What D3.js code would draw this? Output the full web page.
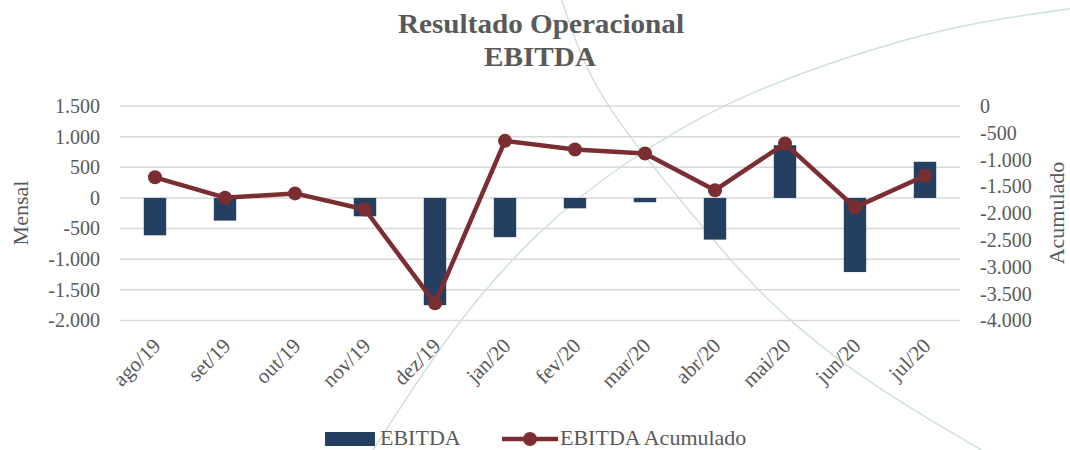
<!DOCTYPE html>
<html>
<head>
<meta charset="utf-8">
<script src="https://cdn.jsdelivr.net/npm/d3@7"></script>
<style>
  body { margin: 0; background: #fff; }
  text { font-family: "Liberation Serif", "DejaVu Serif", serif; fill: #595959; }
</style>
</head>
<body>
<div id="chart"></div>
<script>
// Chart data
const months = ["ago/19", "set/19", "out/19", "nov/19", "dez/19", "jan/20",
                "fev/20", "mar/20", "abr/20", "mai/20", "jun/20", "jul/20"];
const ebitda = [-610, -370, 0, -300, -1750, -640, -170, -70, -680, 860, -1210, 590];
const ebitdaAcum = [-1330, -1710, -1630, -1930, -3680, -650, -810, -885, -1570, -700, -1890, -1300];
const leftTicks = [1500, 1000, 500, 0, -500, -1000, -1500, -2000];
const rightTicks = [0, -500, -1000, -1500, -2000, -2500, -3000, -3500, -4000];

const width = 1070;
const height = 450;
const margin = { top: 106, right: 110, bottom: 130, left: 120 };

const svg = d3.select("#chart")
    .append("svg")
    .attr("width", width)
    .attr("height", height);

// faint decorative curves in the background
const deco = d3.line().curve(d3.curveBasis);
svg.append("path")
    .attr("d", deco([[560, -5], [585, 70], [620, 125], [680, 200], [740, 272], [790, 322], [870, 385], [990, 455]]))
    .attr("fill", "none").attr("stroke", "#cfe0e0").attr("stroke-width", 1.5);
svg.append("path")
    .attr("d", deco([[1075, 8], [960, 24], [850, 55], [723, 102], [620, 165], [540, 228], [455, 322], [370, 455]]))
    .attr("fill", "none").attr("stroke", "#cfe0e0").attr("stroke-width", 1.5);

const x = d3.scaleBand()
    .domain(months)
    .range([margin.left, width - margin.right])
    .paddingInner(0.68)
    .paddingOuter(0.34);

const yL = d3.scaleLinear().domain([-2000, 1500]).range([height - margin.bottom + 0.5, margin.top]);
const yR = d3.scaleLinear().domain([-4000, 0]).range([height - margin.bottom + 0.5, margin.top]);

// gridlines
svg.append("g")
    .selectAll("line")
    .data(leftTicks)
    .join("line")
    .attr("x1", margin.left)
    .attr("x2", width - margin.right)
    .attr("y1", d => yL(d))
    .attr("y2", d => yL(d))
    .attr("stroke", "#d9d9d9")
    .attr("stroke-width", 1.5);

const fmt = d => d3.format(",")(d).replace(/,/g, ".").replace("−", "-");

// left axis
const axL = svg.append("g")
    .attr("transform", `translate(${margin.left - 20},0)`)
    .call(d3.axisLeft(yL).tickValues(leftTicks).tickFormat(fmt).tickSize(0).tickPadding(0));
axL.select(".domain").remove();
axL.selectAll("text").style("font-size", "20px").attr("fill", "#595959");

// right axis
const axR = svg.append("g")
    .attr("transform", `translate(${width - margin.right + 20},0)`)
    .call(d3.axisRight(yR).tickValues(rightTicks).tickFormat(fmt).tickSize(0).tickPadding(0));
axR.select(".domain").remove();
axR.selectAll("text").style("font-size", "20px").attr("fill", "#595959");

// x axis labels
const axX = svg.append("g")
    .attr("transform", `translate(0,${height - margin.bottom})`)
    .call(d3.axisBottom(x).tickSize(0).tickPadding(0));
axX.select(".domain").remove();
axX.selectAll("text")
    .style("font-size", "21px")
    .attr("fill", "#595959")
    .attr("text-anchor", "end")
    .attr("dy", 0)
    .attr("transform", "translate(7,27) rotate(-45)");

// bars
svg.append("g")
    .selectAll("rect")
    .data(ebitda)
    .join("rect")
    .attr("x", (d, i) => x(months[i]))
    .attr("width", x.bandwidth())
    .attr("y", d => yL(Math.max(0, d)))
    .attr("height", d => Math.abs(yL(d) - yL(0)))
    .attr("fill", "#243f60");

// accumulated line
const cx = i => x(months[i]) + x.bandwidth() / 2;
svg.append("path")
    .datum(ebitdaAcum)
    .attr("d", d3.line().x((d, i) => cx(i)).y(d => yR(d)))
    .attr("fill", "none")
    .attr("stroke", "#7b2e31")
    .attr("stroke-width", 4.5)
    .attr("stroke-linejoin", "round");

svg.append("g")
    .selectAll("circle")
    .data(ebitdaAcum)
    .join("circle")
    .attr("cx", (d, i) => cx(i))
    .attr("cy", d => yR(d))
    .attr("r", 7)
    .attr("fill", "#7b2e31");

// title
const title = svg.append("text")
    .attr("text-anchor", "middle")
    .style("font-weight", "bold")
    .style("font-size", "27px");
title.append("tspan").attr("x", 541).attr("y", 33)
    .attr("textLength", 286).attr("lengthAdjust", "spacingAndGlyphs")
    .text("Resultado Operacional");
title.append("tspan").attr("x", 540).attr("y", 66)
    .attr("textLength", 112).attr("lengthAdjust", "spacingAndGlyphs")
    .text("EBITDA");

// axis titles
svg.append("text")
    .attr("transform", "translate(28,213) rotate(-90)")
    .attr("text-anchor", "middle")
    .style("font-size", "22px")
    .text("Mensal");
svg.append("text")
    .attr("transform", "translate(1064,213) rotate(-90)")
    .attr("text-anchor", "middle")
    .style("font-size", "22px")
    .text("Acumulado");

// legend
const leg = svg.append("g");
leg.append("rect").attr("x", 325).attr("y", 432).attr("width", 50).attr("height", 14).attr("fill", "#243f60");
leg.append("text").attr("x", 380).attr("y", 445).style("font-size", "22px").text("EBITDA");
leg.append("line").attr("x1", 502).attr("x2", 558).attr("y1", 439).attr("y2", 439)
    .attr("stroke", "#7b2e31").attr("stroke-width", 4.5);
leg.append("circle").attr("cx", 530).attr("cy", 439).attr("r", 7).attr("fill", "#7b2e31");
leg.append("text").attr("x", 560).attr("y", 445).style("font-size", "22px").text("EBITDA Acumulado");
</script>
</body>
</html>
